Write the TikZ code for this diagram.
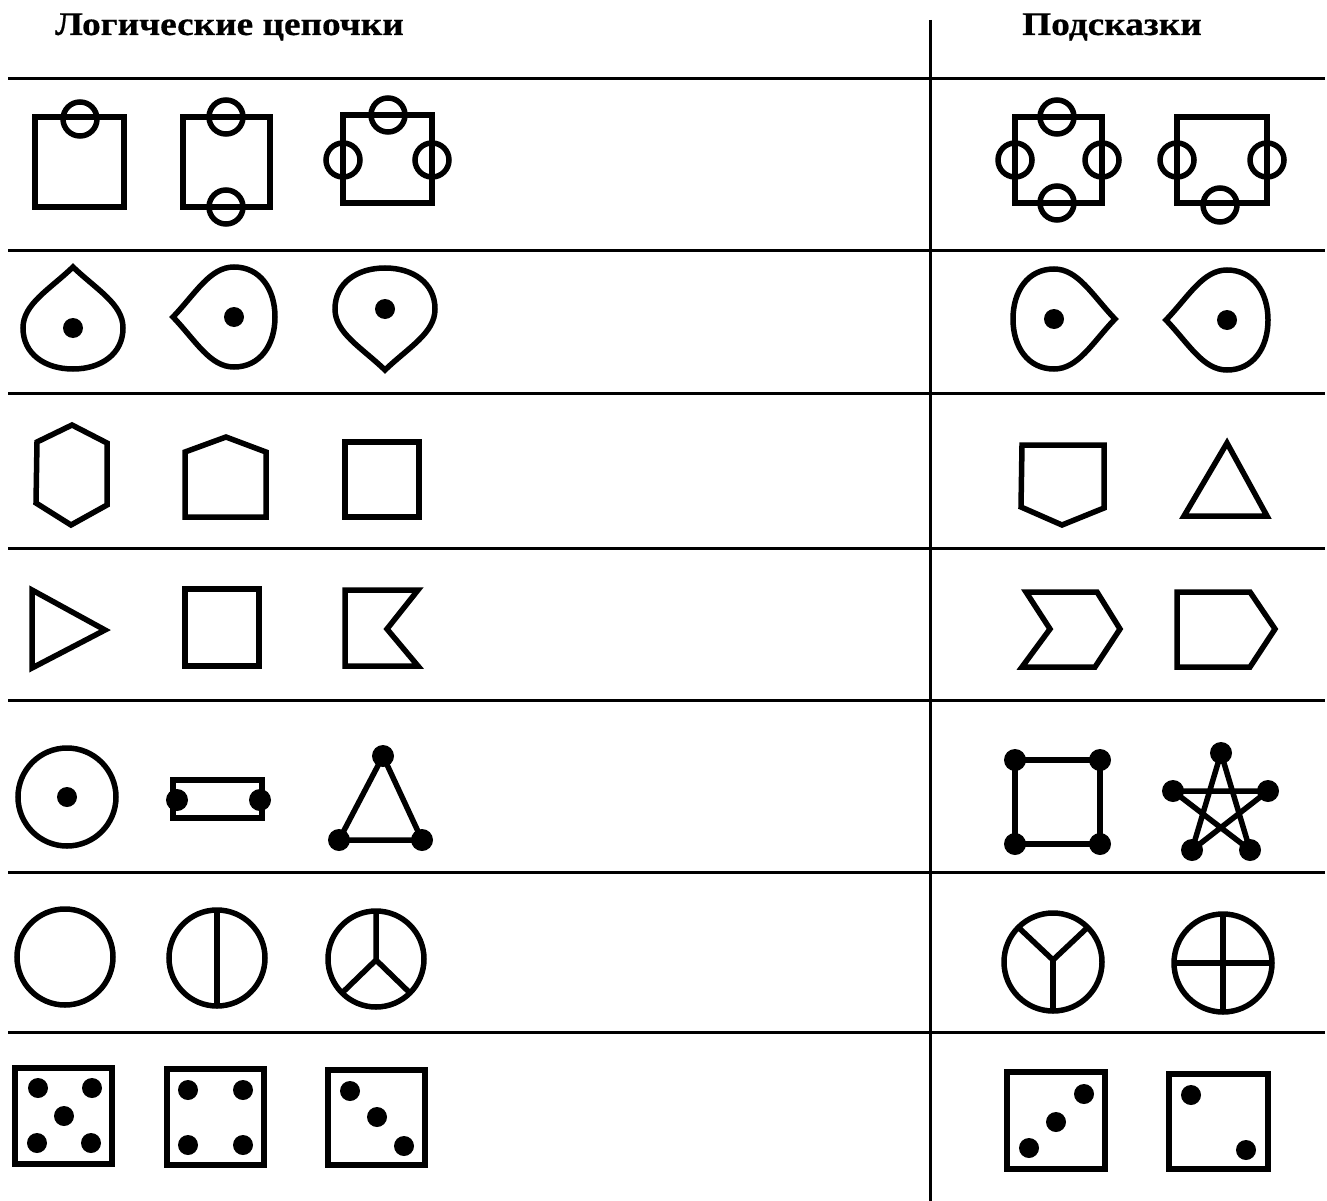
\documentclass[tikz,border=0pt]{standalone}
\usepackage{fontspec}
\newfontfamily\hdfont{Liberation Serif}[FakeStretch=1.13,FakeBold=0.6]
\newcommand\drop[3]{%
  \begin{scope}[shift={(#1,#2)},rotate=#3]
    \draw[shp] (0,-61) .. controls (-24,-38) and (-50,-24) .. (-50,0)
      .. controls (-50,26) and (-28,41) .. (0,41)
      .. controls (28,41) and (50,26) .. (50,0)
      .. controls (50,-24) and (24,-38) .. cycle;
  \end{scope}
  \fill (#1,#2) circle[radius=10pt];}
\begin{document}
\begin{tikzpicture}[x=1pt,y=-1pt,
  shp/.style={line width=5.5pt},
  dice/.style={line width=6pt},
  rule/.style={line width=3pt},
  ttl/.style={font=\hdfont\bfseries\fontsize{33}{40}\selectfont, anchor=base west, inner sep=0pt}]
\useasboundingbox (0,0) rectangle (1327,1201);
% titles
\node[ttl] (t1) at (55,35) {Логические цепочки};
\node[ttl] (t2) at (1022,35) {Подсказки};
% rules
\foreach \yy in {79,250,393,548,700,872,1032}
  \draw[rule] (8,\yy) -- (1325,\yy);
\draw[rule] (930,20) -- (930,1201);

% ---- row 1
\draw[shp] (35,117) rectangle (124,207);
\draw[shp] (80,119) circle[radius=17pt];
\draw[shp] (183,117) rectangle (270,207);
\draw[shp] (226,117) circle[radius=17pt];
\draw[shp] (226,207) circle[radius=17pt];
\draw[shp] (343,115) rectangle (432,203);
\draw[shp] (388,115) circle[radius=17pt];
\draw[shp] (343,160) circle[radius=17pt];
\draw[shp] (432,160) circle[radius=17pt];
\draw[shp] (1015,117) rectangle (1102,203);
\draw[shp] (1057,117) circle[radius=17pt];
\draw[shp] (1057,203) circle[radius=17pt];
\draw[shp] (1015,160) circle[radius=17pt];
\draw[shp] (1102,160) circle[radius=17pt];
\draw[shp] (1177,117) rectangle (1267,203);
\draw[shp] (1177,160) circle[radius=17pt];
\draw[shp] (1267,160) circle[radius=17pt];
\draw[shp] (1220,205) circle[radius=17pt];

% ---- row 2
\drop{73}{328}{0}
\drop{234}{317}{90}
\drop{385}{309}{180}
\drop{1054}{319}{-90}
\drop{1227}{320}{90}

% ---- row 3
\draw[shp] (72,425) -- (107,443) -- (107,505) -- (71,525) -- (36,503) -- (37,442) -- cycle;
\draw[shp] (226,437) -- (266,452) -- (266,517) -- (185,517) -- (185,452) -- cycle;
\draw[shp] (345,442) rectangle (419,517);
\draw[shp] (1022,445) -- (1104,445) -- (1104,508) -- (1062,525) -- (1021,507) -- cycle;
\draw[shp] (1227,443) -- (1267,516) -- (1184,516) -- cycle;

% ---- row 4
\draw[shp] (32,590) -- (105,630) -- (32,668) -- cycle;
\draw[shp] (185,589) rectangle (259,666);
\draw[shp] (345,590) -- (418,590) -- (387,629) -- (418,666) -- (345,666) -- cycle;
\draw[shp] (1026,592) -- (1097,592) -- (1120,629) -- (1095,667) -- (1022,667) -- (1050,629) -- cycle;
\draw[shp] (1177,592) -- (1250,592) -- (1275,629) -- (1250,667) -- (1177,667) -- cycle;

% ---- row 5
\draw[shp] (67,797) circle[radius=49pt];
\fill (67,797) circle[radius=10pt];
\draw[shp] (173,780) rectangle (262,818);
\fill (177,800) circle[radius=11pt] (260,800) circle[radius=11pt];
\draw[shp] (383,756) -- (339,840) -- (422,840) -- cycle;
\fill (383,756) circle[radius=11pt] (339,840) circle[radius=11pt] (422,840) circle[radius=11pt];
\draw[shp] (1015,760) -- (1100,760) -- (1100,844) -- (1015,844) -- cycle;
\fill (1015,760) circle[radius=11pt] (1100,760) circle[radius=11pt]
      (1100,844) circle[radius=11pt] (1015,844) circle[radius=11pt];
\draw[shp] (1221,753) -- (1192,850) -- (1268,791) -- (1173,791) -- (1250,850) -- cycle;
\fill (1221,753) circle[radius=11pt] (1192,850) circle[radius=11pt] (1268,791) circle[radius=11pt]
      (1173,791) circle[radius=11pt] (1250,850) circle[radius=11pt];

% ---- row 6
\draw[shp] (65,957) circle[radius=48pt];
\draw[shp] (217,958) circle[radius=48pt];
\draw[shp] (217,910) -- (217,1006);
\draw[shp] (376,959) circle[radius=48pt];
\draw[shp] (376,911) -- (376,960) -- (342,993);
\draw[shp] (376,960) -- (410,993);
\draw[shp] (1053,962) circle[radius=49pt];
\draw[shp] (1018,927) -- (1053,960) -- (1088,927);
\draw[shp] (1053,960) -- (1053,1011);
\draw[shp] (1223,963) circle[radius=49pt];
\draw[shp] (1223,914) -- (1223,1012);
\draw[shp] (1174,963) -- (1272,963);

% ---- row 7
\draw[dice] (15,1068) rectangle (112,1164);
\fill (38,1088) circle[radius=10pt] (92,1088) circle[radius=10pt] (64,1116) circle[radius=10pt]
      (37,1143) circle[radius=10pt] (91,1143) circle[radius=10pt];
\draw[dice] (167,1069) rectangle (264,1165);
\fill (188,1090) circle[radius=10pt] (243,1090) circle[radius=10pt]
      (188,1145) circle[radius=10pt] (243,1145) circle[radius=10pt];
\draw[dice] (328,1070) rectangle (425,1165);
\fill (350,1091) circle[radius=10pt] (377,1117) circle[radius=10pt] (404,1146) circle[radius=10pt];
\draw[dice] (1007,1072) rectangle (1105,1169);
\fill (1084,1094) circle[radius=10pt] (1056,1122) circle[radius=10pt] (1029,1148) circle[radius=10pt];
\draw[dice] (1169,1074) rectangle (1268,1169);
\fill (1191,1095) circle[radius=10pt] (1246,1150) circle[radius=10pt];
\end{tikzpicture}
\end{document}
